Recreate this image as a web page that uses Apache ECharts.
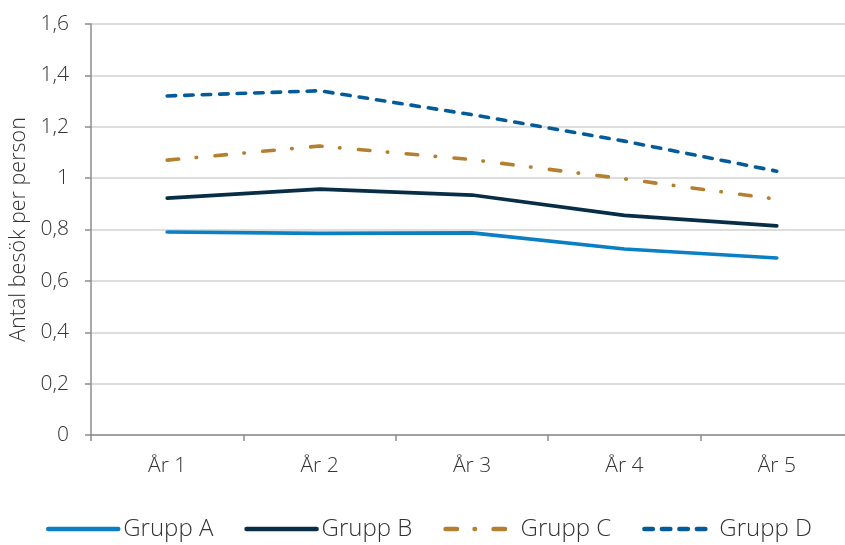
<!DOCTYPE html>
<html>
<head>
<meta charset="utf-8">
<script src="https://cdn.jsdelivr.net/npm/echarts@6/dist/echarts.min.js"></script>
<style>
  html, body { margin: 0; padding: 0; background: #fff; }
  #chart { width: 845px; height: 545px; }
</style>
</head>
<body>
<div id="chart"></div>
<script>
// Besök per person, fem år, fyra grupper
const years = ['År 1', 'År 2', 'År 3', 'År 4', 'År 5'];
const gruppA = [0.79, 0.785, 0.787, 0.724, 0.689];
const gruppB = [0.922, 0.957, 0.934, 0.855, 0.814];
const gruppC = [1.07, 1.125, 1.072, 0.997, 0.918];
const gruppD = [1.32, 1.34, 1.247, 1.144, 1.027];
const yTicks = { min: 0, max: 1.6, interval: 0.2 };

const FONT = '"Open Sans", "Noto Sans", sans-serif';
const TEXT = '#333333';

function lineSeries(name, data, color, dash) {
  return {
    name: name,
    type: 'line',
    data: data,
    symbol: 'none',
    smooth: false,
    lineStyle: { color: color, width: 3.6, type: dash, cap: 'round', join: 'round' },
    itemStyle: { color: color }
  };
}

const chart = echarts.init(document.getElementById('chart'), null, { renderer: 'canvas' });
chart.setOption({
  animation: false,
  backgroundColor: '#ffffff',
  textStyle: { fontFamily: FONT },
  grid: { left: 91, width: 762, top: 24, height: 411, containLabel: false, outerBoundsMode: 'none' },
  legend: {
    bottom: 4,
    left: 46,
    padding: 0,
    itemWidth: 70,
    itemHeight: 14,
    itemGap: 31,
    itemStyle: { opacity: 0 },
    lineStyle: { width: 4.5 },
    textStyle: { fontFamily: FONT, fontSize: 24, color: TEXT, fontWeight: 300 },
    data: ['Grupp A', 'Grupp B', 'Grupp C', 'Grupp D']
  },
  xAxis: {
    type: 'category',
    data: years,
    boundaryGap: true,
    axisLine: { lineStyle: { color: '#8c8c8c', width: 1.5 } },
    axisTick: { show: true, length: 6, alignWithLabel: false, lineStyle: { color: '#8c8c8c', width: 1.5 } },
    axisLabel: { margin: 21, fontSize: 21, color: TEXT, fontFamily: FONT, fontWeight: 300 },
    splitLine: { show: false }
  },
  yAxis: {
    type: 'value',
    min: yTicks.min,
    max: yTicks.max,
    interval: yTicks.interval,
    name: 'Antal besök per person',
    nameLocation: 'middle',
    nameGap: 61,
    nameTextStyle: { fontSize: 21.5, color: TEXT, fontFamily: FONT, fontWeight: 300 },
    axisLine: { show: true, lineStyle: { color: '#8c8c8c', width: 1.5 } },
    axisTick: { show: true, length: 6, lineStyle: { color: '#8c8c8c', width: 1.5 } },
    axisLabel: {
      margin: 22,
      fontSize: 21,
      color: TEXT,
      fontFamily: FONT,
      fontWeight: 300,
      formatter: v => (Math.round(v * 10) / 10).toString().replace('.', ',')
    },
    splitLine: { show: true, lineStyle: { color: '#d2d2d2', width: 1.5 } }
  },
  series: [
    lineSeries('Grupp A', gruppA, '#0a7fc4', 'solid'),
    lineSeries('Grupp B', gruppB, '#082d47', 'solid'),
    lineSeries('Grupp C', gruppC, '#b47f2f', [11.5, 17.5, 0.5, 18.5]),
    lineSeries('Grupp D', gruppD, '#045b97', [8.5, 9])
  ]
});
</script>
</body>
</html>
